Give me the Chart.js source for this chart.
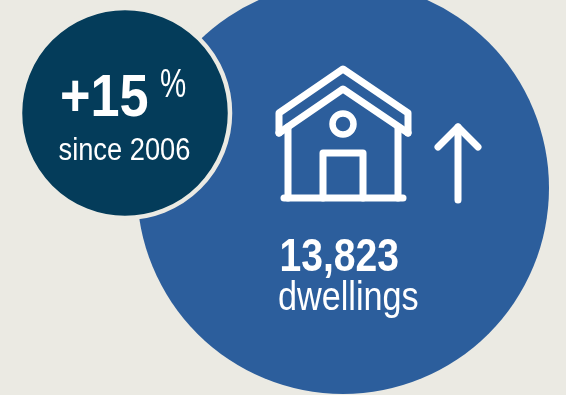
<!DOCTYPE html>
<html>
<head>
<meta charset="utf-8">
<title>Dwellings</title>
<script src="https://cdn.jsdelivr.net/npm/chart.js@4"></script>
<style>
  html, body { margin: 0; padding: 0; background: #ebeae3; }
  canvas { display: block; }
</style>
</head>
<body>
<canvas id="chart" width="566" height="395"></canvas>
<script>
const dwellings = 13823;
const changePct = 15;
const sinceYear = 2006;

// circles: dwellings total, change since base year
const circleX = [343, 125];
const circleY = [188, 113];
const circleR = [206, 105];

// house icon and arrow, as x/y polylines
const roofOuter = [[279, 133], [279, 113], [343, 69], [408, 113], [408, 133]];
const roofInner = [[279, 133], [343, 89], [408, 133]];
const wallLeft = [[288, 127], [288, 198]];
const wallRight = [[398, 127], [398, 198]];
const ground = [[284, 198], [403, 198]];
const door = [[323, 198], [323, 153], [363, 153], [363, 198]];
const arrowShaft = [[458, 127], [458, 200]];
const arrowHead = [[438, 147], [458, 127], [478, 147]];
const iconWindow = [{ x: 343, y: 124, r: 10.5 }];

const BLUE = '#2c5e9c';
const NAVY = '#043c5a';
const PAPER = '#ebeae3';
const WHITE = '#ffffff';

function iconLine(points) {
  return {
    type: 'line',
    data: points.map(([x, y]) => ({ x, y })),
    borderColor: WHITE,
    borderWidth: 7,
    borderCapStyle: 'round',
    borderJoinStyle: 'round',
    pointRadius: 0,
    tension: 0,
    fill: false,
    order: 1,
  };
}

// Text is squeezed horizontally, the plugin scales around each label's left edge
const labels = [
  { text: '+' + changePct, x: 60, y: 116, size: 60, weight: 'bold', squeeze: 0.87 },
  { text: '%', x: 160, y: 97, size: 41, weight: 'normal', squeeze: 0.72 },
  { text: 'since ' + sinceYear, x: 58.5, y: 160, size: 31, weight: 'normal', squeeze: 0.88 },
  { text: dwellings.toLocaleString('en-US'), x: 279.5, y: 271, size: 46, weight: 'bold', squeeze: 0.85 },
  { text: 'dwellings', x: 278, y: 310, size: 40, weight: 'normal', squeeze: 0.855 },
];

const textPlugin = {
  id: 'textPlugin',
  afterDatasetsDraw(c) {
    const ctx = c.ctx;
    labels.forEach((l) => {
      ctx.save();
      ctx.translate(c.scales.x.getPixelForValue(l.x), c.scales.y.getPixelForValue(l.y));
      ctx.scale(l.squeeze, 1);
      ctx.font = l.weight + ' ' + l.size + 'px "Liberation Sans", Arial, sans-serif';
      ctx.fillStyle = WHITE;
      ctx.textBaseline = 'alphabetic';
      ctx.fillText(l.text, 0, 0);
      ctx.restore();
    });
  },
};

new Chart(document.getElementById('chart'), {
  type: 'bubble',
  data: {
    datasets: [
      {
        data: [{ x: circleX[0], y: circleY[0], r: circleR[0] }],
        backgroundColor: BLUE,
        borderWidth: 0,
        order: 3,
      },
      {
        data: [{ x: circleX[1], y: circleY[1], r: circleR[1] }],
        backgroundColor: NAVY,
        borderColor: PAPER,
        borderWidth: 4.5,
        order: 2,
      },
      {
        data: iconWindow,
        backgroundColor: 'rgba(0,0,0,0)',
        borderColor: WHITE,
        borderWidth: 6.5,
        order: 1,
      },
      iconLine(roofOuter),
      iconLine(roofInner),
      iconLine(wallLeft),
      iconLine(wallRight),
      iconLine(ground),
      iconLine(door),
      iconLine(arrowShaft),
      iconLine(arrowHead),
    ],
  },
  options: {
    responsive: false,
    animation: false,
    // bubbles would otherwise shrink the plot area by their radius
    layout: { padding: 0, autoPadding: false },
    scales: {
      x: { type: 'linear', display: false, min: 0, max: 566 },
      y: { type: 'linear', display: false, min: 0, max: 395, reverse: true },
    },
    plugins: {
      legend: { display: false },
      tooltip: { enabled: false },
    },
  },
  plugins: [textPlugin],
});
</script>
</body>
</html>
